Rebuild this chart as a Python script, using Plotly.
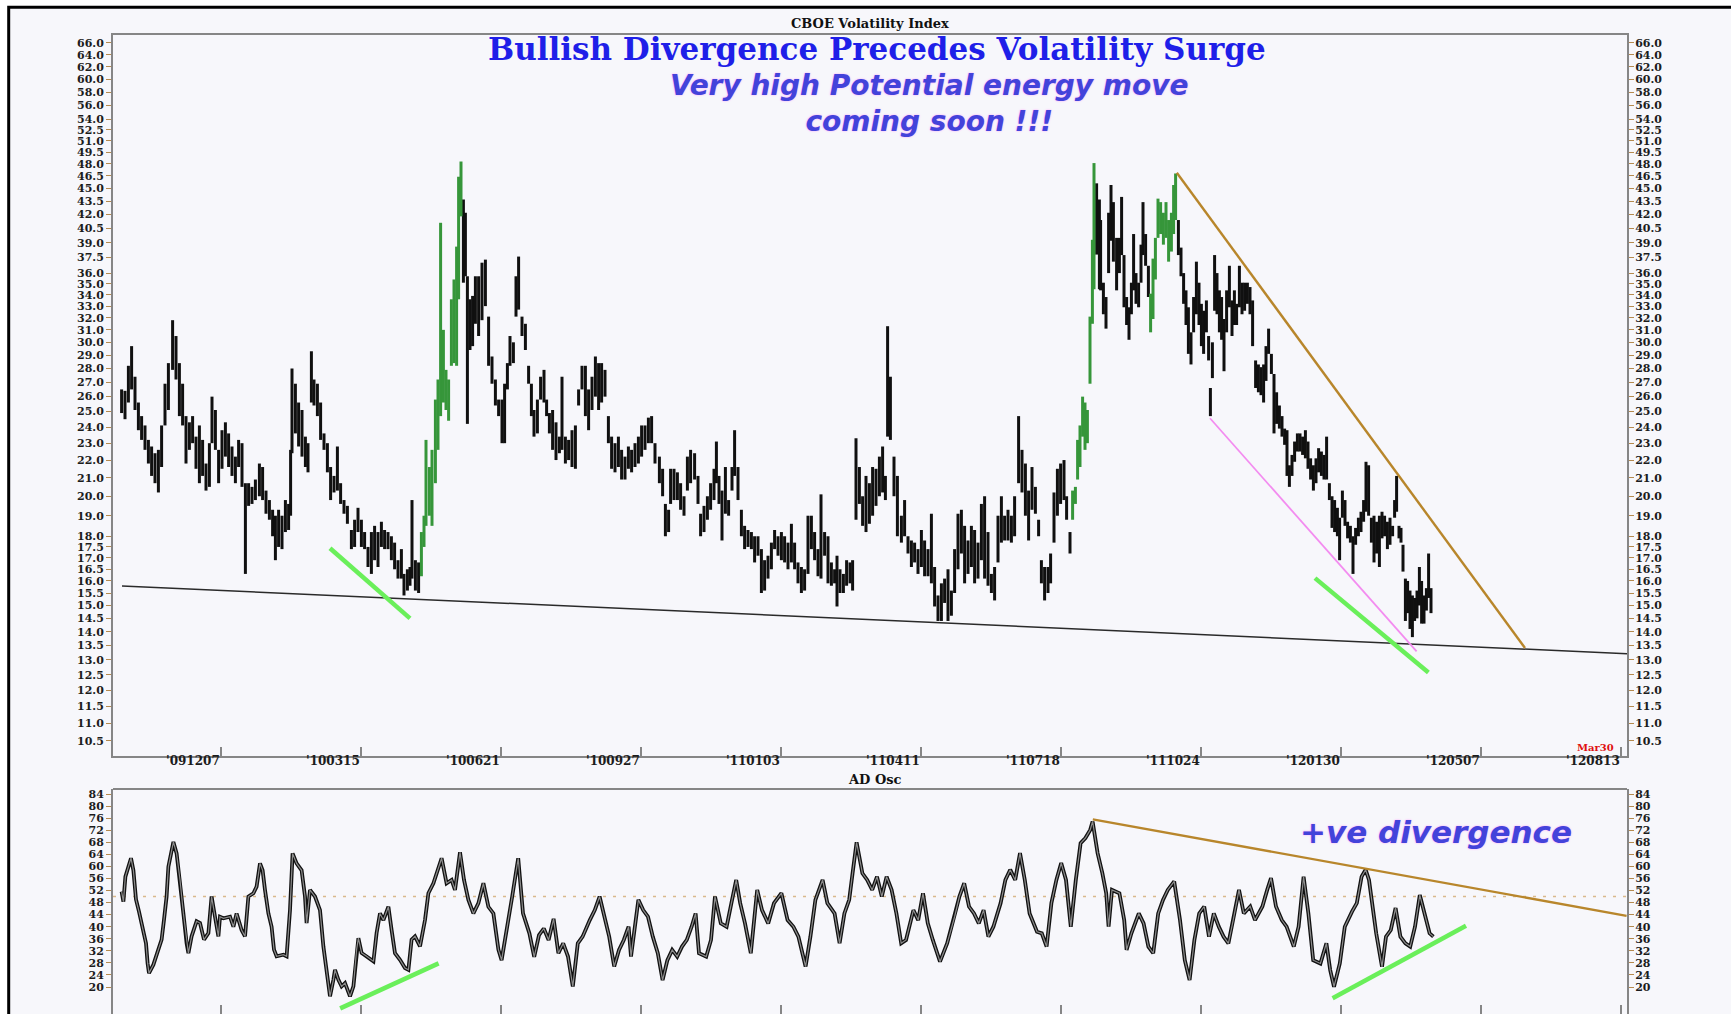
import math
import plotly.graph_objects as go

W, H = 1731, 1014

# ---------------- data (x = weekday index, 0 = 2009-12-07) ----------------
tick_pos = [0, 70, 140, 210, 280, 350, 420, 490, 560, 630, 700]
tick_labels = ["'091207", "'100315", "'100621", "'100927", "'110103", "'110411",
               "'110718", "'111024", "'120130", "'120507", "'120813"]

vix_x = [-49.7, -48.0, -46.3, -44.7, -43.0, -41.3, -39.7, -38.0, -36.3, -34.7, -33.0, -31.3, -29.7, -28.0, -26.3,
         -24.2, -22.5, -20.8, -19.2, -17.5, -15.8, -14.2, -12.5, -10.8, -9.2, -7.5, -5.8, -4.5, -2.8, -1.2,
         0.5, 2.2, 3.8, 5.5, 7.2, 8.8, 10.5, 12.2, 13.8, 15.5, 17.2, 19.2, 20.8, 22.5, 24.2, 25.8, 27.2, 28.8,
         30.5, 32.2, 33.8, 34.8, 35.5, 37.2, 38.8, 40.5, 42.2, 43.5, 45.2, 46.5, 48.2, 49.8, 51.5, 53.2, 54.8,
         56.5, 58.2, 59.8, 61.5, 63.2, 65.2, 66.8, 68.5, 70.2, 71.8, 73.5, 75.2, 76.8, 78.5, 80.2, 81.8, 83.5,
         85.2, 86.8, 88.5, 90.2, 91.5, 93.2, 94.5, 95.5, 97.2, 98.8, 100.2, 101.5, 102.5, 104.2, 105.5, 107.2,
         108.5, 109.8, 111.2, 112.5, 113.8, 115.2, 116.5, 117.8, 118.8, 120.0, 121.2, 122.2, 123.2, 124.5,
         125.8, 127.2, 128.8, 130.5, 132.2, 133.8, 135.5, 137.2, 138.8, 140.5, 141.8, 143.2, 144.5, 146.2,
         147.5, 148.8, 150.5, 152.2, 153.8, 155.2, 156.5, 158.2, 159.8, 161.5, 162.8, 164.2, 165.8, 167.5,
         169.2, 170.5, 172.2, 173.8, 175.5, 177.2, 178.8, 180.5, 182.2, 183.8, 185.5, 187.2, 188.8,
         190.3, 192.0, 193.7, 195.3, 197.0, 198.7, 200.3, 202.0, 203.7, 205.3, 207.0, 208.7, 210.3, 212.0,
         213.7, 215.3, 217.0, 219.2, 220.8, 222.2, 223.8, 224.8, 226.5, 228.2, 229.8, 231.5, 233.2, 234.8,
         236.8, 238.5, 239.8, 241.5, 243.2, 244.8, 246.5, 247.7, 249.0, 250.5, 252.2, 253.8, 255.5, 256.8,
         258.5, 260.2, 261.8, 263.5, 265.2, 266.8, 268.5, 270.2, 271.8, 273.5, 275.2, 276.8, 278.5, 280.2,
         281.8, 283.5, 285.2, 286.8, 288.5, 290.2, 291.8, 293.5, 295.2, 296.8, 298.5, 300.0, 301.8, 303.5,
         305.2, 306.8, 308.0, 309.5, 311.2, 312.8, 314.5, 315.8, 317.5, 319.2, 320.8, 322.5, 324.2, 325.8,
         327.5, 329.2, 330.8, 332.2, 333.3, 334.7, 336.5, 338.2, 340.2, 341.8, 343.5, 345.2, 346.8, 348.5,
         350.2, 351.8, 353.5, 355.2, 356.8, 358.5, 360.2, 361.8, 363.5, 365.2, 366.8, 368.5, 370.2, 371.8,
         373.5, 375.2, 376.8, 378.5, 380.2, 381.8, 383.5, 385.2, 386.8, 388.5, 390.2, 391.8, 393.5, 395.2,
         396.8, 398.8, 400.5, 402.2, 403.8, 405.5, 407.2, 408.8, 410.2, 411.8, 413.5, 414.8, 416.5, 418.2,
         419.8, 421.5, 422.8, 424.5, 425.8, 427.2, 428.3, 429.5, 430.8, 432.0, 433.2, 434.5, 435.7, 436.5,
         437.8, 439.2, 439.8, 441.2, 442.5, 443.8, 445.0, 446.2, 447.8, 449.2, 450.3, 451.5, 452.8, 454.0,
         455.2, 456.3, 457.5, 458.8, 460.0, 461.0, 462.3, 463.7, 464.8, 466.0, 467.2, 468.5, 469.8, 471.2,
         472.5, 473.8, 475.2, 476.3, 477.3, 478.7, 480.0, 481.3, 482.5, 483.7, 485.0, 486.3, 487.7, 489.0,
         490.2, 491.3, 492.7, 493.8, 494.7, 495.7, 496.8, 498.0, 499.2, 500.3, 501.5, 502.8, 504.2, 505.5,
         506.7, 507.8, 509.2, 510.5, 511.8, 513.2, 514.5, 515.8, 517.3, 518.7, 520.0, 521.3, 522.5, 523.8,
         525.2, 526.5, 527.8, 529.2, 530.5, 531.8, 533.0, 534.2, 535.5, 536.8, 538.2, 539.5, 540.8, 542.2,
         543.5, 544.8, 546.2, 547.5, 548.8, 550.2, 551.5, 552.8, 554.2, 555.5, 556.8, 558.2, 559.3, 560.7,
         562.0, 563.3, 564.7, 566.0, 567.3, 568.7, 570.0, 571.3, 572.5, 573.8, 575.2, 576.5, 577.8, 579.2,
         580.5, 581.8, 583.2, 584.5, 585.8, 586.8, 587.8, 589.0, 590.0, 591.0, 592.2, 593.3, 594.5, 595.7,
         596.8, 598.0, 599.2, 600.3, 601.5, 602.7, 603.8, 605.0]
vix_high = [26.5, 26.4, 28.2, 29.7, 27.4, 25.6, 24.7, 24.1, 23.2, 22.8, 22.4, 22.6, 24.1, 26.9, 28.4,
            31.8, 30.5, 28.4, 26.9, 24.7, 24.3, 24.7, 23.4, 24.1, 23.2, 21.8, 23.0, 26.0, 25.1, 22.6,
            23.8, 24.3, 23.6, 22.8, 22.2, 23.2, 23.0, 20.7, 20.7, 20.5, 20.9, 21.8, 21.6, 20.3, 19.8, 19.3, 19.0, 19.3,
            19.0, 19.8, 19.6, 22.6, 28.0, 26.9, 25.6, 25.1, 23.4, 23.0, 29.3, 27.2, 26.9, 25.6, 23.6, 23.0, 21.6,
            21.1, 22.8, 20.7, 19.8, 19.5, 18.3, 18.8, 19.4, 18.8, 18.2, 17.5, 18.2, 18.5, 18.2, 18.7, 18.3, 18.2,
            18.0, 17.7, 16.9, 17.4, 16.3, 16.5, 16.6, 19.8, 16.9, 16.8, 18.2, 19.0, 23.2, 21.6, 22.6, 25.8,
            27.2, 41.1, 31.0, 27.9, 27.2, 33.6, 35.4, 38.6, 46.4, 48.3, 43.7, 42.2, 35.7, 33.6,
            33.9, 35.7, 35.7, 37.0, 37.3, 32.1, 28.9, 27.2, 25.8, 25.8, 26.9, 28.4, 30.5, 30.0,
            35.7, 37.6, 32.1, 31.5, 28.2, 26.9, 25.1, 25.8, 27.4, 27.9, 25.8, 24.9, 25.1, 24.3,
            23.4, 27.4, 23.4, 23.2, 23.8, 24.1, 26.5, 28.2, 28.2, 26.5, 27.4, 28.9, 28.4,
            28.4, 27.9, 24.7, 23.4, 23.0, 23.4, 22.6, 22.2, 22.8, 22.6, 23.0, 23.4, 24.1, 24.1,
            24.6, 24.7, 23.0, 22.2, 21.5, 19.6, 19.3, 21.5, 21.5, 21.3, 20.7, 20.0, 22.2, 22.6,
            22.4, 21.1, 19.1, 19.5, 20.0, 20.7, 21.5, 23.1, 21.1, 20.3, 21.6, 19.8, 21.6, 23.8,
            21.6, 19.3, 18.5, 18.3, 18.2, 18.0, 18.0, 17.4, 16.9, 17.1, 17.7, 18.3, 18.0, 18.2,
            18.0, 17.7, 18.6, 17.7, 16.8, 16.6, 16.5, 19.0, 19.0, 18.2, 17.4, 20.1, 18.2, 18.0,
            16.8, 16.5, 17.1, 16.5, 16.3, 16.9, 16.8, 16.9, 23.3, 21.6, 20.0, 21.1, 20.7, 21.6,
            21.5, 22.2, 22.8, 21.1, 31.3, 27.4, 22.2, 21.1, 19.0, 19.8, 18.0, 17.8, 17.7, 17.4,
            18.3, 17.8, 17.4, 19.1, 16.6, 15.4, 15.9, 16.1, 16.5, 15.6, 17.4, 19.1, 19.3, 18.5,
            17.8, 18.5, 18.3, 17.7, 19.6, 20.0, 18.2, 16.3, 16.6, 19.0, 20.0, 19.0, 19.3, 19.0,
            20.0, 24.7, 22.6, 21.8, 20.3, 21.6, 20.5, 18.8, 16.9, 16.6, 16.6, 17.2, 20.2, 21.5,
            21.8, 22.0, 20.0, 18.2, 20.3, 20.5, 23.2, 24.1, 26.0, 25.6, 25.1, 32.1, 39.3, 48.1,
            45.6, 43.7, 41.4, 35.1, 33.8, 42.2, 45.4, 43.4, 39.5, 39.5, 44.0, 37.75, 33.8, 32.9,
            35.1, 39.9, 36.0, 35.1, 38.8, 43.4, 39.9, 36.7, 34.1, 37.4, 39.5, 43.8, 43.4, 42.2,
            43.4, 41.4, 42.2, 45.4, 46.8, 41.4, 38.5, 36.0, 34.4, 32.9, 30.8, 33.8, 37.1, 35.1,
            33.2, 32.6, 33.5, 30.5, 26.6, 30.0, 37.75, 36.0, 34.4, 33.8, 31.9, 34.4, 36.7, 33.5,
            34.4, 33.2, 36.7, 35.1, 35.1, 35.1, 34.7, 33.5, 28.6, 28.3, 28.1, 28.3, 29.7, 31.1,
            29.1, 27.6, 26.3, 25.4, 24.7, 23.9, 23.8, 21.7, 22.3, 23.1, 23.6, 23.6, 23.4, 23.8,
            23.1, 22.1, 21.7, 22.1, 22.7, 22.5, 22.3, 23.4, 20.7, 20.0, 19.8, 19.4, 18.9, 20.3,
            19.8, 18.7, 18.5, 18.0, 18.4, 18.9, 19.2, 19.8, 21.9, 21.7, 18.9, 19.0, 18.7, 19.0,
            19.2, 19.0, 18.7, 18.9, 18.5, 19.8, 21.1, 18.5, 18.4, 17.6, 16.1, 16.0, 15.6, 15.4,
            15.3, 15.6, 16.6, 16.0, 15.4, 15.7, 17.2, 15.7]
vix_low = [24.9, 24.5, 25.6, 26.5, 25.1, 23.8, 23.2, 22.6, 21.8, 21.1, 20.7, 20.2, 21.6, 24.1, 25.1,
           27.9, 27.2, 24.7, 24.1, 21.8, 22.6, 23.0, 21.5, 20.7, 21.1, 20.3, 20.5, 23.0, 22.6, 20.7,
           21.5, 22.2, 21.6, 21.1, 20.7, 21.6, 20.5, 16.3, 19.5, 19.6, 19.8, 20.0, 19.8, 19.1, 18.8, 18.0, 16.9, 17.5,
           17.4, 18.2, 18.3, 19.0, 22.4, 23.6, 22.8, 22.2, 21.6, 21.3, 25.6, 25.4, 24.7, 23.2, 22.6, 21.3, 19.8,
           20.2, 20.3, 19.6, 19.1, 18.6, 17.4, 17.5, 18.2, 17.5, 17.4, 16.6, 16.3, 16.9, 16.6, 17.5, 17.4, 17.4,
           16.9, 16.5, 16.1, 16.1, 15.4, 15.6, 15.8, 16.1, 15.6, 15.5, 16.2, 17.5, 18.5, 19.0, 18.5, 20.7,
           22.6, 24.7, 25.6, 25.1, 24.4, 28.2, 28.4, 28.2, 33.6, 41.8, 35.1, 35.7, 24.2, 29.4,
           29.7, 31.5, 30.5, 31.8, 33.0, 28.2, 26.9, 25.4, 24.7, 23.0, 23.0, 26.5, 28.2, 28.4,
           32.1, 32.7, 30.5, 29.4, 26.9, 24.7, 23.4, 23.6, 25.8, 25.6, 24.7, 23.6, 22.6, 22.0,
           22.4, 22.6, 21.8, 22.0, 21.6, 21.5, 25.4, 26.5, 24.7, 23.8, 25.1, 26.0, 25.1,
           25.6, 26.0, 23.0, 21.5, 21.3, 21.6, 20.9, 20.9, 21.5, 21.3, 21.6, 21.8, 22.2, 22.6,
           23.0, 23.0, 21.8, 20.7, 20.0, 18.0, 18.2, 19.6, 19.8, 19.8, 19.3, 19.0, 20.3, 20.7,
           20.9, 19.6, 18.0, 18.2, 18.8, 19.3, 19.8, 20.7, 19.6, 17.8, 19.1, 19.0, 20.3, 21.1,
           19.8, 18.0, 17.4, 17.5, 17.4, 16.8, 17.1, 15.5, 15.6, 16.1, 16.5, 17.4, 17.1, 16.9,
           16.8, 16.5, 16.8, 16.5, 15.9, 15.5, 15.6, 16.3, 17.4, 16.9, 16.2, 16.1, 17.1, 15.9,
           15.8, 15.9, 14.96, 15.5, 15.5, 15.8, 15.9, 15.6, 18.8, 19.6, 18.5, 18.2, 18.6, 19.0,
           19.5, 20.0, 20.2, 19.8, 23.4, 23.2, 20.0, 18.0, 17.7, 18.0, 17.2, 16.6, 16.8, 16.3,
           16.6, 16.2, 16.2, 15.9, 14.96, 14.4, 14.4, 15.1, 14.4, 14.6, 15.5, 16.5, 17.2, 15.9,
           16.3, 16.6, 15.9, 16.1, 16.9, 16.1, 15.8, 15.5, 15.2, 16.8, 17.7, 17.8, 17.8, 17.7,
           18.0, 20.7, 20.2, 19.0, 17.8, 19.3, 19.1, 18.0, 15.9, 15.2, 15.5, 15.9, 17.7, 19.0,
           19.6, 19.8, 18.8, 17.2, 18.8, 19.6, 20.9, 21.6, 23.4, 22.6, 23.0, 26.9, 31.5, 34.5,
           37.8, 34.5, 34.4, 32.3, 31.1, 36.0, 39.2, 37.1, 34.4, 36.0, 37.75, 32.9, 31.4, 30.2,
           32.3, 34.4, 33.2, 32.9, 35.1, 37.75, 36.7, 33.8, 30.8, 31.9, 35.4, 39.5, 39.9, 38.8,
           39.5, 37.1, 38.1, 39.9, 41.4, 37.75, 35.7, 33.2, 31.4, 29.1, 28.3, 30.8, 32.3, 31.4,
           29.7, 29.1, 30.8, 28.6, 24.7, 27.3, 32.6, 32.3, 30.8, 30.2, 27.8, 30.8, 32.9, 30.5,
           31.4, 31.4, 32.9, 32.3, 32.6, 33.2, 32.3, 29.7, 26.6, 26.3, 26.1, 25.6, 27.1, 29.1,
           27.6, 23.6, 24.2, 23.9, 23.4, 22.9, 21.1, 20.5, 21.1, 21.9, 22.5, 22.5, 22.3, 22.1,
           21.5, 20.9, 20.3, 20.7, 21.3, 21.1, 20.9, 20.9, 19.8, 18.4, 18.2, 18.0, 16.9, 18.9,
           18.5, 17.9, 17.7, 16.3, 17.6, 18.0, 18.2, 18.7, 19.2, 19.0, 17.7, 16.8, 17.2, 16.6,
           17.9, 18.0, 17.4, 17.6, 18.0, 18.9, 19.2, 17.9, 17.7, 16.4, 14.4, 14.7, 14.1, 13.8,
           14.4, 14.5, 15.0, 14.3, 14.3, 14.8, 15.3, 14.7]
# up-move (green) stretches of the bar chart, as weekday-index intervals
green_spans = [(100.0, 120.5), (425.5, 436.8), (464.5, 477.5)]

osc_x = [-49.7, -48.8, -47.8, -45.0, -43.8, -42.5, -41.0, -39.0, -37.5, -36.7, -36.0, -33.8, -31.2, -29.7,
         -28.5, -27.2, -26.3, -24.7, -23.8, -22.2, -20.5, -18.8, -17.2, -16.3, -14.7, -12.2, -10.5, -8.5,
         -6.3, -4.7, -3.0, -1.3, -0.5, 1.2, 4.5, 6.2, 7.8, 10.3, 12.0, 13.7, 16.2, 17.8, 19.5, 20.8, 22.0,
         23.7, 25.3, 26.5, 27.8, 31.2, 32.8, 34.5, 35.8, 37.8, 40.3, 42.0, 42.8, 44.5, 47.0, 49.5, 51.2,
         52.8, 54.5, 56.2, 57.0, 58.7, 60.3, 62.0, 64.5, 66.2, 67.8, 68.7, 70.3, 72.8, 76.2, 77.8, 79.5,
         81.2, 83.7, 85.3, 87.0, 89.5, 92.0, 93.7, 95.3, 97.0, 99.5, 102.0, 103.7, 106.2, 107.8, 110.3,
         112.8, 115.3, 117.0, 119.5, 121.5, 123.7, 126.2, 128.7, 131.2, 133.7, 136.2, 138.7,
         140.3, 143.2, 145.6, 148.6, 151.0, 154.2, 156.6, 159.0, 161.4, 163.8, 166.3, 168.7, 171.1, 173.5,
         175.9, 178.4, 180.8, 184.4, 186.9, 189.3, 191.7, 194.1, 196.6, 199.0, 201.4, 203.8, 205.0, 208.7,
         211.1, 213.5, 215.9, 218.4, 220.8, 223.2, 225.6, 228.1, 230.5, 232.9, 235.3, 237.3, 239.0, 242.6,
         245.0, 247.0, 249.9, 252.8, 255.2, 257.6, 259.6, 262.0, 264.9, 268.1, 270.5, 273.6, 276.5, 280.2,
         283.3, 286.2, 288.7, 292.3, 294.7, 297.2, 300.8, 303.2, 306.8, 309.3, 311.7, 314.1, 315.8, 317.8,
         320.7, 323.1, 325.6, 328.0, 330.4, 332.8, 335.3, 337.7, 340.1, 342.5, 346.2, 348.6, 351.0, 353.4,
         355.9, 359.5, 363.1, 366.8, 369.2, 371.6, 374.0, 376.5, 378.9, 381.3, 383.7, 386.2, 389.8, 392.2,
         394.6, 397.1, 399.5, 401.9, 404.3, 408.0, 410.4, 412.8, 415.2, 417.7, 420.1, 422.5, 424.9, 427.4,
         429.8, 432.2, 434.6, 435.8, 438.3, 440.7, 442.6, 443.8, 445.5, 449.2, 451.6, 452.8, 455.2, 458.9,
         461.3, 463.7, 466.1, 468.6, 471.0, 473.4, 476.6, 479.5, 481.9, 484.3, 486.7, 489.1, 491.6, 494.0,
         496.4, 498.9, 501.3, 503.7, 506.1, 509.0, 511.4, 514.6, 517.0, 520.7, 523.1, 525.0, 527.5, 530.4,
         532.8, 536.4, 538.8, 541.3, 543.7, 546.1, 549.7, 552.7, 554.6, 556.5, 559.4, 561.9, 565.5, 567.9,
         570.3, 572.3, 574.0, 575.9, 577.6, 580.5, 582.5, 584.9, 587.3, 589.7, 592.2, 594.6, 597.0, 599.4,
         601.9, 604.3, 606.2]
osc_val = [51.6, 48.3, 56.6, 62.7, 58.7, 49.0, 45.0, 38.9, 34.5, 27.9, 24.6, 27.4, 32.4, 35.7,
           42.3, 50.0, 59.9, 65.4, 68.1, 64.3, 55.5, 44.4, 34.5, 31.2, 36.8, 41.8, 41.2, 35.7,
           37.9, 50.0, 43.3, 36.8, 43.3, 42.8, 43.3, 40.0, 44.4, 38.9, 36.8, 50.0, 51.1, 53.3, 61.0, 58.7, 52.2,
           44.4, 40.0, 32.4, 30.2, 30.7, 30.2, 45.5, 64.3, 61.0, 58.7, 50.0, 41.2, 52.2, 50.0, 45.5, 33.4,
           25.7, 16.9, 22.4, 25.7, 22.4, 20.2, 21.3, 16.9, 20.2, 32.4, 36.2, 31.3, 30.2, 28.5, 37.9, 44.4,
           42.2, 46.6, 38.9, 31.2, 29.0, 26.3, 25.7, 35.7, 36.8, 33.5, 42.2, 51.1, 54.4, 57.7, 62.7,
           54.4, 55.5, 52.2, 64.7, 55.5, 48.9, 44.4, 47.8, 54.4, 46.6, 44.4, 32.4,
           28.9, 40.0, 50.0, 62.7, 44.4, 37.8, 30.0, 37.2, 39.4, 35.6, 42.6, 31.2, 34.5, 30.1,
           20.2, 34.5, 36.7, 42.2, 45.5, 50.0, 43.3, 36.7, 26.8, 32.3, 35.6, 40.0, 30.1, 48.9,
           45.5, 43.3, 36.7, 31.2, 22.3, 28.9, 32.3, 30.1, 33.4, 35.6, 40.0, 44.4, 31.2, 30.1,
           35.6, 50.0, 41.1, 40.0, 47.8, 55.5, 47.8, 41.1, 31.2, 52.2, 45.5, 41.1, 47.8, 51.1,
           42.2, 40.0, 36.7, 26.8, 36.7, 48.9, 55.5, 47.8, 44.4, 34.5, 44.4, 48.9, 57.8, 68.0,
           57.7, 55.5, 52.2, 56.6, 50.0, 56.6, 52.2, 44.4, 34.5, 35.6, 45.5, 42.2, 51.1, 41.1,
           35.6, 28.4, 34.5, 43.3, 50.0, 54.4, 46.7, 44.4, 41.1, 45.5, 36.7, 40.0, 47.8, 55.5,
           58.9, 55.5, 64.4, 55.5, 44.4, 38.3, 37.8, 33.4, 47.8, 55.5, 61.1, 55.5, 40.0, 55.5,
           67.7, 69.4, 72.1, 74.9, 64.4, 57.7, 51.1, 40.0, 52.2, 51.1, 42.2, 32.3, 37.8, 44.4,
           41.1, 33.4, 31.2, 44.4, 48.9, 52.2, 55.0, 42.2, 28.9, 22.3, 35.6, 44.4, 46.7, 36.7,
           44.4, 40.0, 36.7, 34.5, 42.2, 52.2, 44.4, 46.7, 42.2, 46.7, 52.2, 56.1, 46.7, 42.2,
           40.0, 33.4, 40.0, 56.6, 44.4, 28.9, 27.8, 34.5, 25.6, 20.1, 27.8, 40.0, 45.0, 47.8,
           56.6, 58.9, 55.5, 46.7, 37.8, 26.7, 36.7, 38.9, 46.2, 36.7, 34.5, 33.4, 40.0, 50.5,
           44.4, 37.8, 36.7]
osc_mid = 50

# trend lines drawn on the chart (x index, value)
support_x, support_y = [-49.5, 703.0], [15.79, 13.21]
vix_down_x, vix_down_y = [477.9, 652.0], [46.9, 13.41]
vix_lowline_x, vix_lowline_y = [494.5, 597.8], [24.56, 13.29]
vix_green1_x, vix_green1_y = [54.5, 94.5], [17.44, 14.5]
vix_green2_x, vix_green2_y = [547.0, 603.7], [16.12, 12.57]
osc_down_x, osc_down_y = [435.9, 702.8], [75.6, 43.6]
osc_green1_x, osc_green1_y = [59.6, 108.8], [12.93, 27.85]
osc_green2_x, osc_green2_y = [555.8, 622.5], [16.24, 40.33]

vix_ticks = [10.5, 11, 11.5, 12, 12.5, 13, 13.5, 14, 14.5, 15, 15.5, 16, 16.5, 17, 17.5, 18, 19, 20, 21,
             22, 23, 24, 25, 26, 27, 28, 29, 30, 31, 32, 33, 34, 35, 36, 37.5, 39, 40.5, 42, 43.5, 45,
             46.5, 48, 49.5, 51, 52.5, 54, 56, 58, 60, 62, 64, 66]
osc_ticks = [20, 24, 28, 32, 36, 40, 44, 48, 52, 56, 60, 64, 68, 72, 76, 80, 84]

# ---------------- layout helpers ----------------
def px(x):
    return x / W

def py(y):
    return 1 - y / H

X_DOM = [px(113), px(1627)]
MAIN_DOM = [py(756), py(35)]
OSC_DOM = [0.0, py(789)]
X_RANGE = [-54, 703]
VIX_RANGE = [math.log10(10.09), math.log10(67.4)]
OSC_RANGE = [11.05, 85.66]

AXIS_GRAY = "#868686"
TICK_BROWN = "#b58a4e"
TICK_FONT = dict(family="DejaVu Serif", size=11, color="#1c1c1c", weight="bold")
XLAB_FONT = dict(family="DejaVu Serif", size=12, color="#1c1c1c", weight="bold")


def in_green(v):
    return any(a <= v <= b for a, b in green_spans)


def bars(sel):
    xs, ys = [], []
    for xi, hi, lo in zip(vix_x, vix_high, vix_low):
        if sel(xi):
            xs += [xi, xi, None]
            ys += [lo, hi, None]
    return xs, ys


fig = go.Figure()

bx, by = bars(lambda v: not in_green(v))
fig.add_trace(go.Scatter(x=bx, y=by, mode="lines", line=dict(color="#101010", width=3.0),
                         xaxis="x", yaxis="y", hoverinfo="skip"))
gx, gy = bars(in_green)
fig.add_trace(go.Scatter(x=gx, y=gy, mode="lines", line=dict(color="#36963a", width=3.0),
                         xaxis="x", yaxis="y", hoverinfo="skip"))

for lx, ly, col, wd in [(support_x, support_y, "#2a2a2a", 1.5),
                        (vix_down_x, vix_down_y, "#b8862b", 2.4),
                        (vix_lowline_x, vix_lowline_y, "#f38cf0", 1.8),
                        (vix_green1_x, vix_green1_y, "#6aef5a", 4.5),
                        (vix_green2_x, vix_green2_y, "#6aef5a", 4.5)]:
    fig.add_trace(go.Scatter(x=lx, y=ly, mode="lines", line=dict(color=col, width=wd),
                             xaxis="x", yaxis="y", hoverinfo="skip"))

# oscillator: dark outline with grey core
fig.add_trace(go.Scatter(x=osc_x, y=osc_val, mode="lines", line=dict(color="#111111", width=3.8),
                         xaxis="x2", yaxis="y3", hoverinfo="skip"))
fig.add_trace(go.Scatter(x=osc_x, y=osc_val, mode="lines", line=dict(color="#8c8c8c", width=1.2),
                         xaxis="x2", yaxis="y3", hoverinfo="skip"))
for lx, ly, col, wd in [(osc_down_x, osc_down_y, "#b8862b", 2.4),
                        (osc_green1_x, osc_green1_y, "#6aef5a", 4.5),
                        (osc_green2_x, osc_green2_y, "#6aef5a", 4.5)]:
    fig.add_trace(go.Scatter(x=lx, y=ly, mode="lines", line=dict(color=col, width=wd),
                             xaxis="x2", yaxis="y3", hoverinfo="skip"))

# invisible traces so the right-hand label axes are drawn
fig.add_trace(go.Scatter(x=[0], y=[20], mode="markers", marker=dict(opacity=0),
                         xaxis="x", yaxis="y2", hoverinfo="skip"))
fig.add_trace(go.Scatter(x=[0], y=[50], mode="markers", marker=dict(opacity=0),
                         xaxis="x2", yaxis="y4", hoverinfo="skip"))

common_x = dict(domain=X_DOM, range=X_RANGE, tickvals=tick_pos, ticks="inside", ticklen=9,
                tickcolor=AXIS_GRAY, tickwidth=1.5, showticklabels=False, showgrid=False,
                zeroline=False)
vix_text = [f"{v:.1f}" for v in vix_ticks]
osc_text = [str(v) for v in osc_ticks]

fig.update_layout(
    width=W, height=H, margin=dict(l=0, r=0, t=0, b=0),
    paper_bgcolor="white", plot_bgcolor="rgba(0,0,0,0)", showlegend=False,
    xaxis=dict(**common_x, anchor="y", showline=True, linecolor=AXIS_GRAY, linewidth=2, mirror=True),
    yaxis=dict(domain=MAIN_DOM, type="log", range=VIX_RANGE, tickvals=vix_ticks, ticktext=vix_text,
               ticks="outside", ticklen=5, tickcolor=TICK_BROWN, tickwidth=1.2, tickfont=TICK_FONT,
               showline=True, linecolor=AXIS_GRAY, linewidth=2, mirror="ticks", showgrid=False,
               zeroline=False, anchor="x"),
    yaxis2=dict(overlaying="y", side="right", anchor="x", type="log", range=VIX_RANGE,
                tickvals=vix_ticks, ticktext=vix_text, ticks="outside", ticklen=5,
                tickcolor="rgba(0,0,0,0)", tickfont=TICK_FONT, showline=False, showgrid=False,
                zeroline=False),
    xaxis2=dict(**common_x, anchor="y3", showline=False),
    yaxis3=dict(domain=OSC_DOM, range=OSC_RANGE, tickvals=osc_ticks, ticktext=osc_text,
                ticks="outside", ticklen=5, tickcolor=TICK_BROWN, tickwidth=1.2, tickfont=TICK_FONT,
                showline=True, linecolor=AXIS_GRAY, linewidth=2, mirror="ticks", showgrid=False,
                zeroline=False, anchor="x2"),
    yaxis4=dict(overlaying="y3", side="right", anchor="x2", range=OSC_RANGE, tickvals=osc_ticks,
                ticktext=osc_text, ticks="outside", ticklen=5, tickcolor="rgba(0,0,0,0)",
                tickfont=TICK_FONT, showline=False, showgrid=False, zeroline=False),
)

shapes = [
    # page background with black frame on top/left edges
    dict(type="rect", xref="paper", yref="paper", x0=px(8.7), x1=1.02, y0=-0.02, y1=py(7.3),
         fillcolor="#f7f7fb", line=dict(color="black", width=3), layer="below"),
    # top edge of the oscillator panel
    dict(type="line", xref="paper", yref="paper", x0=X_DOM[0], x1=X_DOM[1], y0=OSC_DOM[1],
         y1=OSC_DOM[1], line=dict(color=AXIS_GRAY, width=2)),
    # oscillator mid level
    dict(type="line", xref="paper", yref="y3", x0=X_DOM[0], x1=X_DOM[1], y0=osc_mid, y1=osc_mid,
         line=dict(color="#d9b98c", width=1.5, dash="3px,7px"), layer="below"),
]
fig.update_layout(shapes=shapes)

ann = []
for tp, tl in zip(tick_pos, tick_labels):
    ann.append(dict(x=tp + 0.6, y=py(761), xref="x", yref="paper", text=tl, showarrow=False,
                    xanchor="right", yanchor="middle", font=XLAB_FONT))

SHADOW = "0px 0px 2px rgba(255,120,255,0.75)"
ITAL = dict(family="DejaVu Sans", size=31, color="#4343da", weight="bold", style="italic",
            shadow=SHADOW)
ITAL_TOP = dict(ITAL, size=28)
ann += [
    dict(x=px(870), y=py(23), text="CBOE Volatility Index",
         font=dict(family="DejaVu Serif", size=13, color="#111111", weight="bold")),
    dict(x=px(877), y=py(49), text="Bullish Divergence Precedes Volatility Surge",
         font=dict(family="DejaVu Serif", size=31, color="#1f1fe8", weight="bold")),
    dict(x=px(929), y=py(104), text="Very high Potential energy move<br>coming soon !!!",
         font=ITAL_TOP, align="center"),
    dict(x=px(1436), y=py(832), text="+ve divergence", font=ITAL),
    dict(x=px(875), y=py(779), text="AD Osc",
         font=dict(family="DejaVu Serif", size=13, color="#111111", weight="bold")),
    dict(x=px(1616), y=py(747), text="Mar30", xanchor="right",
         font=dict(family="DejaVu Serif", size=10, color="#e01010", weight="bold")),
]
for a in ann[len(tick_pos):]:
    a.setdefault("xref", "paper")
    a.setdefault("yref", "paper")
    a.setdefault("showarrow", False)
    a.setdefault("xanchor", "center")
    a.setdefault("yanchor", "middle")
fig.update_layout(annotations=ann)

fig.write_html("out.html", config={"displayModeBar": False},
               post_script="document.body.style.margin='0';document.body.style.overflow='hidden';")
